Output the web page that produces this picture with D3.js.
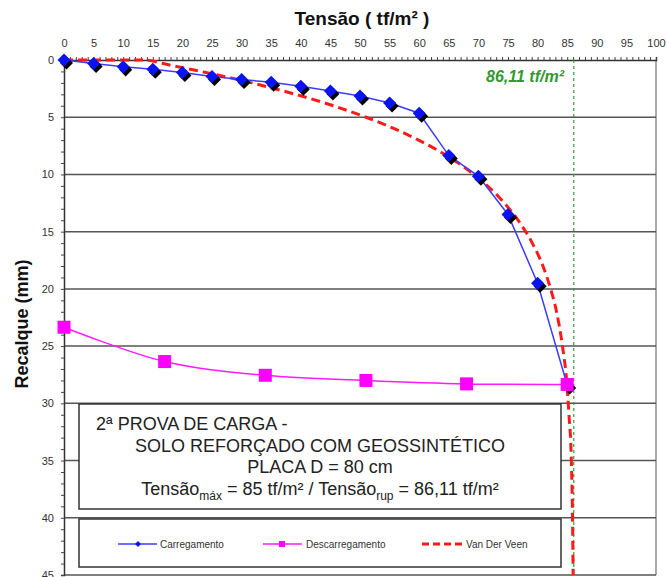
<!DOCTYPE html>
<html>
<head>
<meta charset="utf-8">
<script src="https://cdn.jsdelivr.net/npm/d3@7/dist/d3.min.js"></script>
<style>
  html, body { margin: 0; padding: 0; background: #fff; }
  svg { display: block; font-family: "Liberation Sans", Arial, sans-serif; }
</style>
</head>
<body>
<svg id="chart" width="667" height="577"></svg>
<script>
// Prova de carga em placa: tensão aplicada x recalque medido
const carregTensao   = [0, 5, 10, 15, 20, 25, 30, 35, 40, 45, 50, 55, 60, 65, 70, 75, 80, 85];
const carregRecalque = [0, 0.3, 0.6, 0.8, 1.1, 1.45, 1.7, 1.95, 2.3, 2.7, 3.15, 3.75, 4.65, 8.35, 10.15, 13.5, 19.5, 28.4];

const descarTensao   = [0, 17, 34, 51, 68, 85];
const descarRecalque = [23.35, 26.35, 27.55, 28.0, 28.3, 28.35];

// Ajuste de Van Der Veen (curva tracejada)
const vdvTensao   = [0, 13.2, 18.4, 23.1, 27.6, 31.7, 39.1, 45.5, 51.0, 55.8, 59.9, 63.5, 66.6, 69.2, 73.5, 76.7, 79.1, 80.9, 82.2, 83.2, 84.2, 84.9, 85.3, 85.7, 85.9, 86.0];
const vdvRecalque = [0, 0, 0.5, 1, 1.5, 2, 3, 4, 5, 6, 7, 8, 9, 10, 12, 14, 16, 18, 20, 22, 25, 28, 31, 35, 40, 45];

const tensaoRuptura = 86.11;
const xTicks = d3.range(0, 101, 5);
const yTicks = d3.range(0, 46, 5);

const seriesNames = ["Carregamento", "Descarregamento", "Van Der Veen"];
const infoLines = ["2ª PROVA DE CARGA -", "SOLO REFORÇADO COM GEOSSINTÉTICO", "PLACA D = 80 cm"];

const svg = d3.select("#chart");
const plotL = 64, plotR = 656, plotT = 60, plotB = 575;

const x = d3.scaleLinear().domain([0, 100]).range([plotL, plotR]);
const y = d3.scaleLinear().domain([0, 45]).range([plotT, plotB]);

// right border of the plot area
svg.append("line")
  .attr("x1", plotR).attr("x2", plotR).attr("y1", plotT).attr("y2", plotB)
  .attr("stroke", "#aaa").attr("stroke-width", 2);

// horizontal gridlines
svg.append("g").selectAll("line")
  .data(yTicks.filter(d => d > 0))
  .join("line")
  .attr("x1", plotL).attr("x2", plotR)
  .attr("y1", d => y(d)).attr("y2", d => y(d))
  .attr("stroke", "#555").attr("stroke-width", 1.5);

// top axis: minor ticks every 1, labels every 5
const xMinor = svg.append("g").attr("transform", `translate(0,${plotT})`)
  .call(d3.axisTop(x).tickValues(d3.range(0, 101, 1)).tickSize(3).tickFormat(""));
xMinor.select(".domain").attr("stroke", "#333").attr("stroke-width", 1.5);
xMinor.selectAll(".tick line").attr("stroke", "#444");

const xLab = svg.append("g").attr("transform", `translate(0,${plotT})`)
  .call(d3.axisTop(x).tickValues(xTicks).tickSize(0).tickPadding(13));
xLab.select(".domain").remove();
xLab.selectAll("text").attr("font-size", 11).attr("fill", "#333")
  .attr("font-family", "'Liberation Sans', Arial, sans-serif");

// left axis
const yMinor = svg.append("g").attr("transform", `translate(${plotL},0)`)
  .call(d3.axisLeft(y).tickValues(d3.range(0, 46, 1)).tickSize(3).tickFormat(""));
yMinor.select(".domain").attr("stroke", "#333").attr("stroke-width", 1.5);
yMinor.selectAll(".tick line").attr("stroke", "#444");

const yLab = svg.append("g").attr("transform", `translate(${plotL},0)`)
  .call(d3.axisLeft(y).tickValues(yTicks).tickSize(0).tickPadding(10));
yLab.select(".domain").remove();
yLab.selectAll("text").attr("font-size", 11).attr("fill", "#333")
  .attr("font-family", "'Liberation Sans', Arial, sans-serif");

// axis titles
svg.append("text")
  .attr("x", 362).attr("y", 25).attr("text-anchor", "middle")
  .attr("font-size", 19).attr("font-weight", "bold").attr("fill", "#111")
  .text("Tensão ( tf/m² )");

svg.append("text")
  .attr("transform", "translate(28,324) rotate(-90)")
  .attr("text-anchor", "middle")
  .attr("font-size", 18).attr("font-weight", "bold").attr("fill", "#111")
  .text("Recalque (mm)");

// ultimate stress marker
svg.append("line")
  .attr("x1", x(tensaoRuptura)).attr("x2", x(tensaoRuptura))
  .attr("y1", plotT).attr("y2", plotB)
  .attr("stroke", "#3a9a3a").attr("stroke-width", 1.2).attr("stroke-dasharray", "3,3");

svg.append("text")
  .attr("x", 564).attr("y", 82).attr("text-anchor", "end")
  .attr("font-size", 16).attr("font-weight", "bold").attr("font-style", "italic")
  .attr("fill", "#2f9a2f")
  .text("86,11 tf/m²");

// description box
const boxX0 = 79, boxX1 = 561;
svg.append("rect")
  .attr("x", boxX0).attr("y", 404).attr("width", boxX1 - boxX0).attr("height", 105)
  .attr("fill", "#fff").attr("stroke", "#333").attr("stroke-width", 1.5);

const boxCx = (boxX0 + boxX1) / 2;
svg.append("text").attr("x", 96).attr("y", 430)
  .attr("font-size", 18).attr("fill", "#222").text(infoLines[0]);
svg.append("text").attr("x", boxCx).attr("y", 452).attr("text-anchor", "middle")
  .attr("font-size", 18).attr("fill", "#222").text(infoLines[1]);
svg.append("text").attr("x", boxCx).attr("y", 473).attr("text-anchor", "middle")
  .attr("font-size", 18).attr("fill", "#222").text(infoLines[2]);

const l4 = svg.append("text").attr("x", boxCx).attr("y", 495).attr("text-anchor", "middle")
  .attr("font-size", 18).attr("fill", "#222");
l4.append("tspan").text("Tensão");
l4.append("tspan").attr("font-size", 12).attr("dy", 5).text("máx");
l4.append("tspan").attr("dy", -5).text(" = 85 tf/m² / Tensão");
l4.append("tspan").attr("font-size", 12).attr("dy", 5).text("rup");
l4.append("tspan").attr("dy", -5).text(" = 86,11 tf/m²");

// legend box
svg.append("rect")
  .attr("x", boxX0).attr("y", 519).attr("width", boxX1 - boxX0).attr("height", 48)
  .attr("fill", "#fff").attr("stroke", "#333").attr("stroke-width", 1.5);

// series
const toPts = (xs, ys) => xs.map((v, i) => [v, ys[i]]);
const carreg = toPts(carregTensao, carregRecalque);
const descar = toPts(descarTensao, descarRecalque);
const vdv = toPts(vdvTensao, vdvRecalque);

const lineStraight = d3.line().x(d => x(d[0])).y(d => y(d[1]));
const lineSmooth = d3.line().x(d => x(d[0])).y(d => y(d[1])).curve(d3.curveCatmullRom.alpha(0.5));
const lineVdv = d3.line().x(d => x(d[0])).y(d => y(d[1])).curve(d3.curveMonotoneX);

svg.append("path").datum(vdv).attr("d", lineVdv)
  .attr("fill", "none").attr("stroke", "#ff1a1a").attr("stroke-width", 3)
  .attr("stroke-dasharray", "9,5");

svg.append("path").datum(carreg).attr("d", lineStraight)
  .attr("fill", "none").attr("stroke", "#3c3cff").attr("stroke-width", 1.5);

const diamond = d3.symbol().type(d3.symbolSquare).size(85)();
const gC = svg.append("g");
gC.selectAll("path.shadow").data(carreg).join("path")
  .attr("class", "shadow").attr("d", diamond)
  .attr("transform", d => `translate(${x(d[0]) + 2.5},${y(d[1]) + 3}) rotate(45)`)
  .attr("fill", "#000");
gC.selectAll("path.mark").data(carreg).join("path")
  .attr("class", "mark").attr("d", diamond)
  .attr("transform", d => `translate(${x(d[0])},${y(d[1])}) rotate(45)`)
  .attr("fill", "#0a14f0");

svg.append("path").datum(descar).attr("d", lineSmooth)
  .attr("fill", "none").attr("stroke", "#ff1aff").attr("stroke-width", 1.5);

svg.append("g").selectAll("rect").data(descar).join("rect")
  .attr("x", d => x(d[0]) - 6.5).attr("y", d => y(d[1]) - 6.5)
  .attr("width", 13).attr("height", 13)
  .attr("fill", "#ff00ff");

// legend entries
const legY = 544;
const leg = svg.append("g").attr("font-size", 10).attr("fill", "#333");
// Carregamento
leg.append("line").attr("x1", 118).attr("x2", 157).attr("y1", legY).attr("y2", legY)
  .attr("stroke", "#3c3cff").attr("stroke-width", 1.5);
leg.append("path").attr("d", d3.symbol().type(d3.symbolSquare).size(18)())
  .attr("transform", `translate(138,${legY}) rotate(45)`).attr("fill", "#0a14f0");
leg.append("text").attr("x", 160).attr("y", legY + 3.5).text(seriesNames[0]);
// Descarregamento
leg.append("line").attr("x1", 263).attr("x2", 302).attr("y1", legY).attr("y2", legY)
  .attr("stroke", "#ff1aff").attr("stroke-width", 1.5);
leg.append("rect").attr("x", 279).attr("y", legY - 3).attr("width", 6).attr("height", 6)
  .attr("fill", "#ff00ff");
leg.append("text").attr("x", 306).attr("y", legY + 3.5).text(seriesNames[1]);
// Van Der Veen
leg.append("line").attr("x1", 422).attr("x2", 463).attr("y1", legY).attr("y2", legY)
  .attr("stroke", "#ff1a1a").attr("stroke-width", 3).attr("stroke-dasharray", "7,4");
leg.append("text").attr("x", 466).attr("y", legY + 3.5).text(seriesNames[2]);
</script>
</body>
</html>
